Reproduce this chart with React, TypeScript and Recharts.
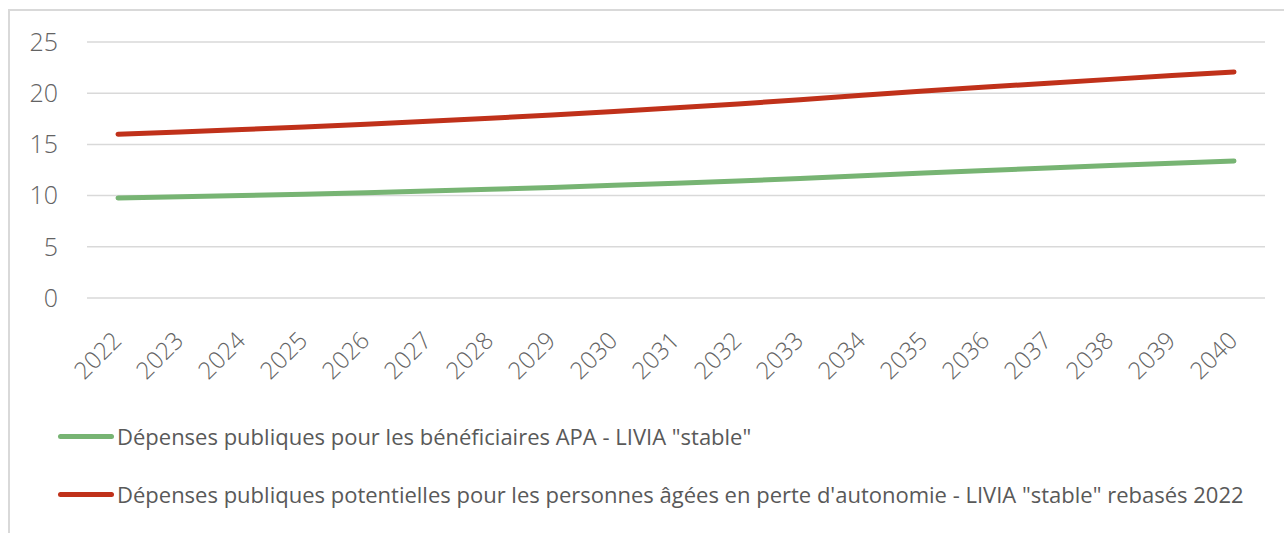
import { LineChart, Line, XAxis, YAxis, CartesianGrid, Legend } from 'recharts';

const years = [
  '2022', '2023', '2024', '2025', '2026', '2027', '2028', '2029', '2030', '2031',
  '2032', '2033', '2034', '2035', '2036', '2037', '2038', '2039', '2040',
];

// Dépenses publiques, bénéficiaires APA (LIVIA "stable")
const apaStable = [
  9.77, 9.88, 10.0, 10.13, 10.28, 10.44, 10.62, 10.8, 11.0, 11.2,
  11.42, 11.67, 11.93, 12.2, 12.45, 12.7, 12.93, 13.15, 13.38,
];

// Dépenses potentielles, personnes âgées en perte d'autonomie (rebasés 2022)
const perteAutonomie = [
  16.0, 16.2, 16.45, 16.7, 16.97, 17.25, 17.55, 17.88, 18.22, 18.57,
  18.95, 19.35, 19.8, 20.22, 20.6, 20.98, 21.35, 21.72, 22.07,
];

const yTicks = [0, 5, 10, 15, 20, 25];

const seriesNames = [
  'Dépenses publiques pour les bénéficiaires APA - LIVIA "stable"',
  'Dépenses publiques potentielles pour les personnes âgées en perte d\'autonomie - LIVIA "stable" rebasés 2022',
];

const data = years.map((year, i) => ({
  year,
  apa: apaStable[i],
  perte: perteAutonomie[i],
}));

const GREEN = '#77B473';
const RED = '#C0311A';
const TEXT = '#595959';
const TICK = '#636363';
const FONT = '"Open Sans", sans-serif';

const XTick = (props: any) => {
  const { x, y, payload } = props;
  return (
    <g transform={`translate(${x},${y})`}>
      <text
        x={0}
        y={0}
        transform="translate(5,36) rotate(-45)"
        textAnchor="end"
        fill={TICK}
        fontSize={24}
        fontFamily={FONT}
        fontWeight={300}
      >
        {payload.value}
      </text>
    </g>
  );
};

const LegendBox = () => (
  <div style={{ fontFamily: FONT, fontSize: 22, color: TEXT, lineHeight: 1 }}>
    {[GREEN, RED].map((c, i) => (
      <div key={i} style={{ display: 'flex', alignItems: 'center', height: 58 }}>
        <span
          style={{
            display: 'inline-block',
            width: 56,
            height: 5,
            borderRadius: 3,
            background: c,
            marginLeft: 58,
            marginRight: 3,
          }}
        />
        <span>{seriesNames[i]}</span>
      </div>
    ))}
  </div>
);

export default function App() {
  return (
    <div style={{ position: 'absolute', left: 0, top: 0, width: 1284, height: 533, background: '#fff', overflow: 'hidden' }}>
      <div
        style={{
          position: 'absolute',
          left: 8,
          top: 9,
          width: 1290,
          height: 540,
          borderLeft: '2px solid #D9D9D9',
          borderTop: '2px solid #D9D9D9',
        }}
      />
      <LineChart
        width={1284}
        height={533}
        data={data}
        margin={{ top: 42, right: 19, bottom: 175, left: 0 }}
      >
        <CartesianGrid vertical={false} stroke="#D9D9D9" strokeWidth={1.5} />
        <XAxis
          dataKey="year"
          axisLine={false}
          tickLine={false}
          interval={0}
          height={60}
          padding={{ left: 31, right: 31 }}
          tick={<XTick />}
        />
        <YAxis
          width={87}
          domain={[0, 25]}
          ticks={yTicks}
          axisLine={false}
          tickLine={false}
          tickMargin={23}
          tick={{ fill: TICK, fontSize: 25, fontFamily: FONT, fontWeight: 300 }}
        />
        <Legend
          layout="horizontal"
          verticalAlign="middle"
          align="center"
          wrapperStyle={{ top: 407, left: 0, width: 1284 }}
          content={<LegendBox />}
        />
        <Line
          type="linear"
          dataKey="apa"
          name={seriesNames[0]}
          stroke={GREEN}
          strokeWidth={5}
          strokeLinecap="round"
          dot={false}
          isAnimationActive={false}
        />
        <Line
          type="linear"
          dataKey="perte"
          name={seriesNames[1]}
          stroke={RED}
          strokeWidth={5}
          strokeLinecap="round"
          dot={false}
          isAnimationActive={false}
        />
      </LineChart>
    </div>
  );
}
